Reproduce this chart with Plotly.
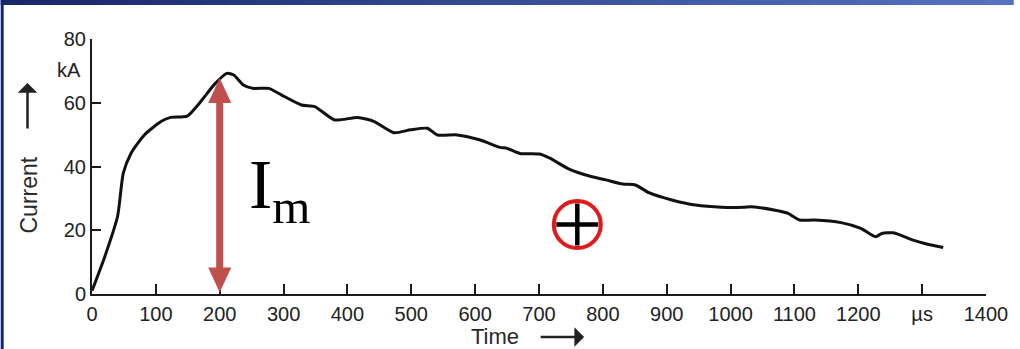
import plotly.graph_objects as go

# ---- data ----
time_us = [0, 20, 40, 49, 61, 82, 108, 123, 149, 170, 191, 211, 222, 237, 253, 277,
           297, 328, 349, 380, 416, 442, 473, 499, 525, 541, 572, 608, 639, 650, 670,
           701, 717, 748, 779, 805, 831, 851, 872, 908, 945, 986, 1020, 1033, 1074,
           1090, 1108, 1131, 1173, 1204, 1227, 1237, 1255, 1286, 1307, 1333]
current_ka = [1.0, 11.7, 24.3, 37.9, 44.1, 49.9, 54.1, 55.4, 55.8, 60.3, 65.6, 69.2,
              68.7, 65.6, 64.5, 64.5, 62.4, 59.3, 58.8, 54.6, 55.4, 54.1, 50.6, 51.5,
              52.0, 49.9, 49.9, 48.3, 46.0, 45.7, 44.1, 43.9, 42.6, 39.1, 37.0, 35.8,
              34.5, 34.2, 31.8, 29.5, 27.9, 27.2, 27.2, 27.4, 26.1, 25.3, 23.2, 23.2,
              22.4, 20.6, 18.0, 19.0, 19.2, 16.9, 15.7, 14.6]

x_tickvals = [0, 100, 200, 300, 400, 500, 600, 700, 800, 900, 1000, 1100, 1200, 1300, 1400]
x_ticktext = ["0", "100", "200", "300", "400", "500", "600", "700", "800", "900",
              "1000", "1100", "1200", "µs", "1400"]
y_tickvals = [0, 20, 40, 60, 80]
y_ticktext = ["0", "20", "40", "60", "80"]

# annotation values
im_time = 200          # position of the I_m arrow
im_bottom = 0.5
im_top = 67.8
polarity_time = 760    # "+" polarity symbol position
polarity_current = 21.8

# ---- layout constants ----
W, H = 1020, 349
ML, MR, MT, MB = 92, 27, 39, 55
PW, PH = W - ML - MR, H - MT - MB
X_RANGE = [0, 1400]
Y_RANGE = [0, 80]
px_per_y = PH / (Y_RANGE[1] - Y_RANGE[0])

def px_to_paper_x(px):
    return (px - ML) / PW

def px_to_paper_y(py):
    return (H - MB - py) / PH

tick_font = dict(family="Liberation Sans, Arial, sans-serif", size=20, color="#222222")
label_font = dict(family="Liberation Sans, Arial, sans-serif", size=22, color="#2a2a2a")
RED = "#c0504d"

fig = go.Figure()

fig.add_trace(go.Scatter(
    x=time_us, y=current_ka, mode="lines",
    line=dict(color="#111111", width=3, shape="spline", smoothing=0.6),
    hoverinfo="skip", showlegend=False,
))

# polarity symbol: red circle with black plus
fig.add_trace(go.Scatter(
    x=[polarity_time], y=[polarity_current], mode="markers",
    marker=dict(symbol="circle", size=47, color="white",
                line=dict(color="#e01b1b", width=4)),
    hoverinfo="skip", showlegend=False,
))
fig.add_trace(go.Scatter(
    x=[polarity_time], y=[polarity_current], mode="markers",
    marker=dict(symbol="cross-thin", size=30, color="black",
                line=dict(color="black", width=4.5)),
    hoverinfo="skip", showlegend=False,
))

shapes = []
# I_m double arrow
head_h, head_w = 25, 23
head_units = head_h / px_per_y
shapes.append(dict(type="line", xref="x", yref="y",
                   x0=im_time, x1=im_time,
                   y0=im_bottom + head_units * 0.8, y1=im_top - head_units * 0.8,
                   line=dict(color=RED, width=7)))
shapes.append(dict(type="path", xref="x", yref="y",
                   xsizemode="pixel", ysizemode="pixel",
                   xanchor=im_time, yanchor=im_top,
                   path=f"M0,0 L{-head_w/2},{-head_h} L{head_w/2},{-head_h} Z",
                   fillcolor=RED, line=dict(width=0)))
shapes.append(dict(type="path", xref="x", yref="y",
                   xsizemode="pixel", ysizemode="pixel",
                   xanchor=im_time, yanchor=im_bottom,
                   path=f"M0,0 L{-head_w/2},{head_h} L{head_w/2},{head_h} Z",
                   fillcolor=RED, line=dict(width=0)))

# decorative blue frame (top gradient strip, left strip)
n_seg = 40
c0 = (24, 40, 105)
c1 = (84, 116, 192)
for i in range(n_seg):
    f = i / (n_seg - 1)
    col = tuple(int(c0[k] + (c1[k] - c0[k]) * f) for k in range(3))
    x0p = i * W / n_seg
    x1p = (i + 1) * W / n_seg + 1
    shapes.append(dict(type="rect", xref="paper", yref="paper",
                       x0=px_to_paper_x(x0p), x1=px_to_paper_x(x1p),
                       y0=px_to_paper_y(5), y1=px_to_paper_y(0),
                       fillcolor=f"rgb{col}", line=dict(width=0), layer="above"))
shapes.append(dict(type="rect", xref="paper", yref="paper",
                   x0=px_to_paper_x(0), x1=px_to_paper_x(3),
                   y0=px_to_paper_y(H), y1=px_to_paper_y(0),
                   fillcolor="rgb(18,38,110)", line=dict(width=0), layer="above"))

annotations = [
    # unit under the top y tick
    dict(x=0, y=70.4, xref="x", yref="y", text="kA", showarrow=False,
         xanchor="right", yanchor="middle", xshift=-9, font=tick_font),
    # I_m label
    dict(x=px_to_paper_x(248), y=px_to_paper_y(190), xref="paper", yref="paper",
         text="I<sub>m</sub>", showarrow=False, xanchor="left", yanchor="middle",
         font=dict(family="Liberation Serif, Times New Roman, serif", size=70, color="black")),
    # y axis title
    dict(x=px_to_paper_x(29), y=px_to_paper_y(195), xref="paper", yref="paper",
         text="Current", textangle=-90, showarrow=False, font=dict(label_font, size=23),
         xanchor="center", yanchor="middle"),
    dict(x=px_to_paper_x(27), y=px_to_paper_y(83), xref="paper", yref="paper",
         text="", showarrow=True, ax=0, ay=47, arrowhead=1, arrowsize=1.3,
         arrowwidth=2.5, arrowcolor="#222222"),
    # x axis title
    dict(x=px_to_paper_x(498), y=px_to_paper_y(336), xref="paper", yref="paper",
         text="Time", showarrow=False, font=label_font, borderpad=0,
         xanchor="center", yanchor="middle"),
    dict(x=px_to_paper_x(588), y=px_to_paper_y(337), xref="paper", yref="paper",
         text="", showarrow=True, ax=-45, ay=0, arrowhead=1, arrowsize=1.3,
         arrowwidth=2.5, arrowcolor="#222222"),
]

axis_common = dict(showline=True, linecolor="#1a1a1a", linewidth=2,
                   ticks="inside", tickcolor="#1a1a1a", tickwidth=1.5,
                   showgrid=False, zeroline=False, tickfont=tick_font,
                   fixedrange=True)

fig.update_layout(
    width=W, height=H, autosize=False,
    margin=dict(l=ML, r=MR, t=MT, b=MB, pad=0),
    paper_bgcolor="white", plot_bgcolor="white",
    xaxis=dict(range=X_RANGE, tickvals=x_tickvals, ticktext=x_ticktext,
               ticklen=10, ticklabelstandoff=1, **axis_common),
    yaxis=dict(range=Y_RANGE, tickvals=y_tickvals, ticktext=y_ticktext,
               ticklen=9, ticklabelstandoff=0, **axis_common),
    shapes=shapes, annotations=annotations, showlegend=False,
)

fig.write_html("out.html",
               config={"displayModeBar": False, "responsive": False},
               post_script="document.body.style.margin='0';document.body.style.overflow='hidden';")
